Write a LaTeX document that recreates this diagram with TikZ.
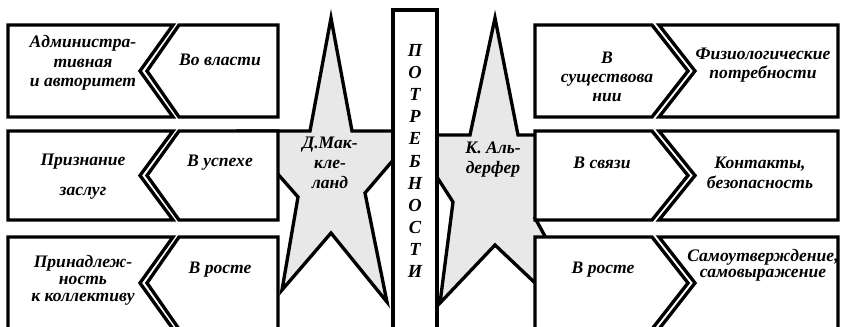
\documentclass[tikz,border=0pt]{standalone}
\usepackage{fontspec}
\setmainfont{Liberation Serif}
\usepackage{tikz}
\usetikzlibrary{positioning}
\definecolor{stargray}{RGB}{232,232,232}

\begin{document}
\begin{tikzpicture}[
  x=0.02cm,y=-0.02cm,
  boxline/.style={draw=black,line width=1.9pt,fill=white,line join=miter},
  starshape/.style={draw=black,line width=1.9pt,fill=stargray,line join=miter},
  lbl/.style={font=\bfseries\itshape\fontsize{10}{11}\selectfont,align=center,inner sep=0pt},
  colletters/.style={font=\bfseries\itshape\fontsize{10.5}{12.6}\selectfont,align=center,inner sep=0pt}
]
\clip (0,0) rectangle (841,327);

% STARS: drawn first, boxes cover their arms
\draw[starshape] (331,18) -- (310,131) -- (240,131) -- (298,197) -- (282,290) -- (331,233)
  -- (387,302) -- (365,193) -- (418,131) -- (352,131) -- cycle;
\draw[starshape] (495,18) -- (470,135) -- (410,135) -- (453,202) -- (440,303) -- (495,245)
  -- (609,353) -- (535,218) -- (590,135) -- (518,135) -- cycle;

% LEFT: notched box + chevron pointing left
\foreach \t/\b in {25/117,131/220,237/329}{
  \draw[boxline] (8,\t) -- (173,\t) -- (140,{(\t+\b)/2}) -- (173,\b) -- (8,\b) -- cycle;
  \draw[boxline] (179,\t) -- (278,\t) -- (278,\b) -- (179,\b) -- (147,{(\t+\b)/2}) -- cycle;
}

% RIGHT: arrow pointing right + notched box
\foreach \t/\b in {25/117,131/220,237/329}{
  \draw[boxline] (535,\t) -- (652,\t) -- (688,{(\t+\b)/2}) -- (652,\b) -- (535,\b) -- cycle;
  \draw[boxline] (659,\t) -- (838,\t) -- (838,\b) -- (659,\b) -- (695,{(\t+\b)/2}) -- cycle;
}

% MIDDLE: column
\draw[boxline] (393,10) rectangle (437,340);
\node[colletters] (potr) at (415,161) {П\\О\\Т\\Р\\Е\\Б\\Н\\О\\С\\Т\\И};

% star labels
\node[lbl,font=\bfseries\itshape\fontsize{10}{11.4}\selectfont] (mcc) at (330,163) {Д.Мак-\\кле-\\ланд};
\node[lbl,font=\bfseries\itshape\fontsize{10}{11.4}\selectfont] (ald) at (493,160) {К. Аль-\\дерфер};

% left texts
\node[lbl] (adm) at (83,63) {Администра-\\тивная\\и авторитет};
\node[lbl] (vlast) at (220,60) {Во власти};
\node[lbl] (priz) at (83,177) {Признание\\[6pt]заслуг};
\node[lbl] (uspeh) at (220,163) {В успехе};
\node[lbl,font=\bfseries\itshape\fontsize{10}{9.6}\selectfont] (prin) at (83,280) {Принадлеж-\\ность\\к коллективу};
\node[lbl] (rostl) at (220,270) {В росте};

% right texts
\node[lbl] (sush) at (607,77) {В\\существова\\нии};
\node[lbl] (fiz) at (763,65) {Физиологические\\потребности};
\node[lbl] (svyaz) at (602,163) {В связи};
\node[lbl] (kont) at (760,173) {Контакты,\\безопасность};
\node[lbl] (rostr) at (603,270) {В росте};
\node[lbl,font=\bfseries\itshape\fontsize{10}{9}\selectfont] (samo) at (763,265) {Самоутверждение,\\самовыражение};
\end{tikzpicture}
\end{document}
